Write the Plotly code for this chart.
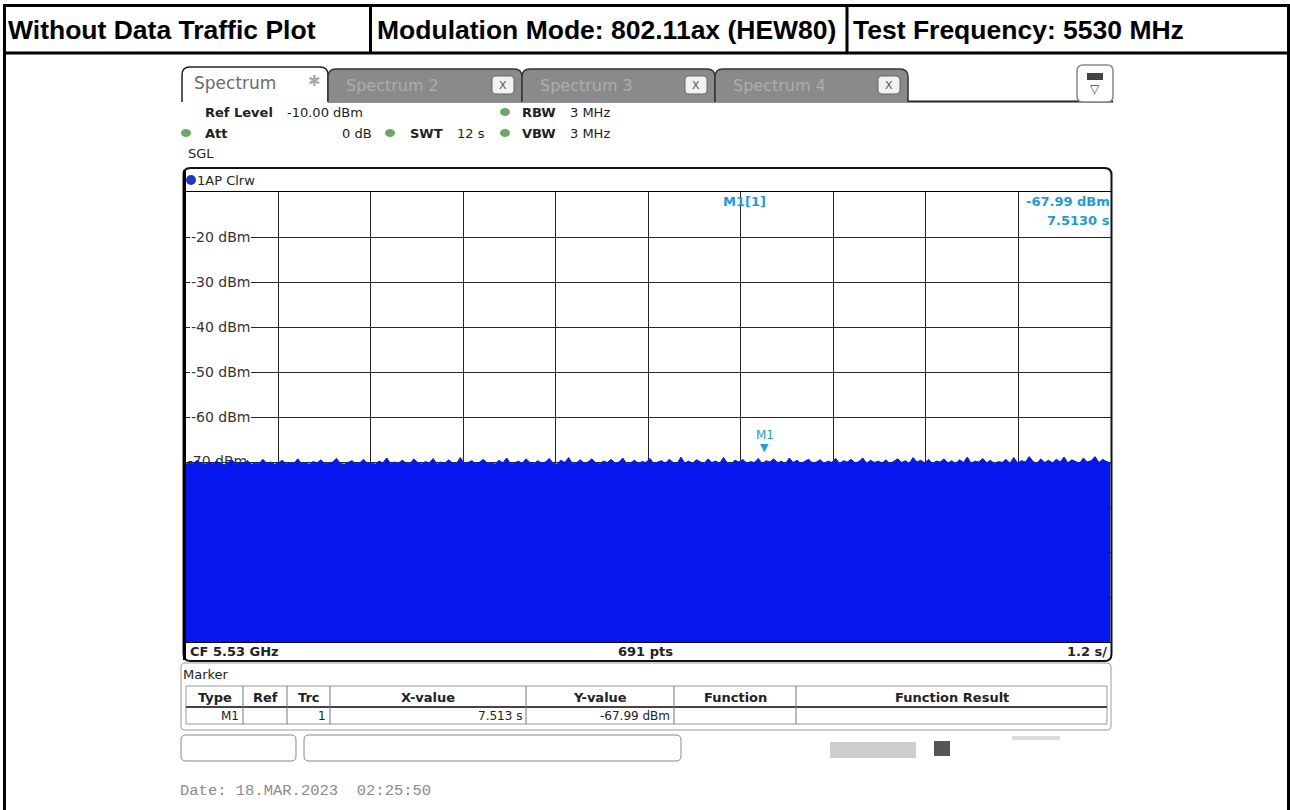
import numpy as np
import plotly.graph_objects as go

W, H = 1290, 810

# ---------------- data ----------------
header_cells = ["Without Data Traffic Plot", "Modulation Mode: 802.11ax (HEW80)", "Test Frequency: 5530 MHz"]
tab_labels = ["Spectrum", "Spectrum 2", "Spectrum 3", "Spectrum 4"]
ref_level_dbm = -10.0
y_bottom_dbm = -110.0
sweep_time_s = 12.0
time_per_div_s = 1.2
y_tick_values = [-20, -30, -40, -50, -60]
y_tick_labels = ["-20 dBm", "-30 dBm", "-40 dBm", "-50 dBm", "-60 dBm"]
hidden_label_value = -70
hidden_label = "-70 dBm"

trace_levels = [
    -70.5, -70.2, -70.4, -69.6, -70.3, -70.5, -70.1, -70.4, -69.8, -70.3, -70.6, -70.2, -69.5, -70.4, -70.1,
    -70.3, -69.7, -70.5, -70.2, -70.4, -69.4, -70.3, -70.0, -70.5, -70.2, -69.6, -70.4, -70.1, -70.3, -69.3,
    -70.4, -70.1, -70.5, -69.9, -70.2, -69.5, -70.4, -70.2, -70.0, -69.2, -70.3, -70.5, -70.1, -69.7, -70.4,
    -70.2, -69.4, -70.3, -70.1, -70.5, -69.8, -70.2, -69.1, -70.4, -70.0, -70.3, -69.6, -70.2, -70.4, -69.3,
    -70.1, -70.4, -69.9, -70.2, -69.2, -70.5, -70.0, -70.3, -69.5, -70.2, -70.4, -69.0, -70.3, -70.1, -69.7,
    -70.4, -70.0, -69.4, -70.3, -70.1, -70.5, -69.6, -70.2, -69.1, -70.4, -70.2, -69.8, -70.3, -69.3, -70.1,
    -70.4, -69.7, -70.2, -70.0, -69.2, -70.3, -70.5, -69.6, -70.1, -69.0, -70.4, -70.2, -69.5, -70.3, -70.0,
    -69.3, -70.2, -70.4, -69.8, -70.1, -69.4, -70.3, -70.0, -69.1, -70.4, -70.2, -69.6, -70.3, -69.9, -70.1,
    -69.2, -70.4, -70.0, -69.7, -70.3, -69.4, -70.1, -70.4, -68.9, -70.2, -69.8, -70.3, -69.5, -70.0, -70.4,
    -69.3, -70.1, -69.8, -70.3, -69.0, -70.2, -70.4, -69.6, -70.0, -69.4, -70.3, -69.9, -70.1, -69.2, -70.4,
    -69.7, -70.0, -69.3, -70.2, -69.8, -70.4, -69.1, -70.1, -69.6, -70.3, -69.9, -69.4, -70.2, -70.0, -69.5,
    -70.3, -69.8, -70.1, -69.2, -70.4, -69.7, -70.0, -69.4, -70.2, -69.9, -69.1, -70.3, -69.6, -70.1, -69.8,
    -70.2, -69.5, -70.4, -69.9, -69.3, -70.1, -69.7, -70.3, -69.0, -70.0, -69.6, -70.2, -69.4, -70.4, -69.8,
    -70.0, -69.3, -70.2, -69.7, -70.4, -69.5, -70.1, -68.9, -70.3, -69.8, -70.0, -69.2, -70.2, -69.6, -70.4,
    -69.9, -70.1, -69.4, -70.3, -69.0, -70.2, -69.7, -70.0, -68.8, -69.9, -70.3, -69.3, -70.1, -69.6, -70.2,
    -69.4, -70.0, -68.9, -70.2, -69.5, -69.9, -70.3, -69.1, -70.0, -69.7, -68.8, -70.1, -69.4, -69.9, -70.2,
]
marker_time_s = 7.513
marker_level_dbm = -67.99

table_headers = ["Type", "Ref", "Trc", "X-value", "Y-value", "Function", "Function Result"]
table_row = ["M1", "", "1", "7.513 s", "-67.99 dBm", "", ""]

# ---------------- helpers (pixel -> paper) ----------------
def ax(x):
    return x / W

def ay(y):
    return 1 - y / H

shapes = []
annotations = []

def line(x0, y0, x1, y1, color="black", w=1):
    shapes.append(dict(type="line", xref="paper", yref="paper", x0=ax(x0), y0=ay(y0),
                       x1=ax(x1), y1=ay(y1), line=dict(color=color, width=w), layer="above"))

def rect(x0, y0, x1, y1, fill=None, color="rgba(0,0,0,0)", w=0):
    shapes.append(dict(type="rect", xref="paper", yref="paper", x0=ax(x0), y0=ay(y0),
                       x1=ax(x1), y1=ay(y1), fillcolor=fill or "rgba(0,0,0,0)",
                       line=dict(color=color, width=w), layer="above"))

def ellipse(x0, y0, x1, y1, fill):
    shapes.append(dict(type="circle", xref="paper", yref="paper", x0=ax(x0), y0=ay(y0),
                       x1=ax(x1), y1=ay(y1), fillcolor=fill, line=dict(width=0), layer="above"))

def P(x, y):
    return f"{ax(x):.6f},{ay(y):.6f}"

def rpath(x0, y0, x1, y1, r, fill=None, color="black", w=1, open_bottom=False):
    if open_bottom:
        d = (f"M{P(x0, y1)} L{P(x0, y0 + r)} Q{P(x0, y0)} {P(x0 + r, y0)} "
             f"L{P(x1 - r, y0)} Q{P(x1, y0)} {P(x1, y0 + r)} L{P(x1, y1)}")
    else:
        d = (f"M{P(x0 + r, y0)} L{P(x1 - r, y0)} Q{P(x1, y0)} {P(x1, y0 + r)} "
             f"L{P(x1, y1 - r)} Q{P(x1, y1)} {P(x1 - r, y1)} L{P(x0 + r, y1)} "
             f"Q{P(x0, y1)} {P(x0, y1 - r)} L{P(x0, y0 + r)} Q{P(x0, y0)} {P(x0 + r, y0)} Z")
    shapes.append(dict(type="path", xref="paper", yref="paper", path=d,
                       fillcolor=fill or "rgba(0,0,0,0)", line=dict(color=color, width=w), layer="above"))

def text(x, y, s, size=13, color="#222", anchor="left", bold=False, family="DejaVu Sans", bg=None, pad=0):
    annotations.append(dict(xref="paper", yref="paper", x=ax(x), y=ay(y),
                            text=f"<b>{s}</b>" if bold else s, showarrow=False,
                            xanchor=anchor, yanchor="middle",
                            font=dict(family=family, size=size, color=color),
                            bgcolor=bg, borderpad=pad, borderwidth=0))

# ---------------- header table ----------------
line(4.5, 4, 4.5, 812, w=3)
line(1288.5, 4, 1288.5, 812, w=3)
line(3, 5.5, 1290, 5.5, w=3)
line(3, 53, 1290, 53, w=3)
line(370.5, 5, 370.5, 53, w=3)
line(847, 5, 847, 53, w=3)
hdr_font = "Liberation Sans, Arial, sans-serif"
text(8, 30, header_cells[0], size=26.5, color="black", bold=True, family=hdr_font)
text(377, 30, header_cells[1], size=26.5, color="black", bold=True, family=hdr_font)
text(853, 30, header_cells[2], size=26.5, color="black", bold=True, family=hdr_font)

# ---------------- tabs ----------------
green = "#6aa86a"
line(328, 101.5, 1113, 101.5, color="#222", w=2)
tab_x = [(182, 328), (328, 522), (522, 715), (715, 908)]
for i, (x0, x1) in enumerate(tab_x):
    if i == 0:
        rpath(x0, 67, x1, 102, 8, fill="white", color="#222", w=1.5, open_bottom=True)
        text(194, 83, tab_labels[0], size=17, color="#6b6b6b")
        text(314, 81, "✱", size=15, color="#a8a8a8", anchor="center")
    else:
        rpath(x0, 69, x1, 102, 8, fill="#8a8a8a", color="#333", w=1.5, open_bottom=True)
        text(x0 + 18, 85, tab_labels[i], size=16, color="#adadad")
        rpath(x1 - 30, 76, x1 - 8, 94, 4, fill="#f2f2f2", color="#666", w=1)
        text(x1 - 19, 85, "X", size=11, color="#555", anchor="center")
rpath(1077, 65, 1113, 102, 6, fill="white", color="#888", w=1.5)
rect(1087, 73, 1103, 80, fill="#444")
text(1095, 89, "▽", size=12, color="#444", anchor="center")

# ---------------- setting lines ----------------
y_r1, y_r2, y_r3 = 112, 133, 153
text(205, y_r1, "Ref Level", size=13, bold=True)
text(287, y_r1, "-10.00 dBm", size=13)
ellipse(500, y_r1 - 4, 510, y_r1 + 4, green)
text(522, y_r1, "RBW", size=13, bold=True)
text(570, y_r1, "3 MHz", size=13)
ellipse(181, y_r2 - 4, 191, y_r2 + 4, green)
text(205, y_r2, "Att", size=13, bold=True)
text(372, y_r2, "0 dB", size=13, anchor="right")
ellipse(385, y_r2 - 4, 395, y_r2 + 4, green)
text(410, y_r2, "SWT", size=13, bold=True)
text(457, y_r2, "12 s", size=13)
ellipse(500, y_r2 - 4, 510, y_r2 + 4, green)
text(522, y_r2, "VBW", size=13, bold=True)
text(570, y_r2, "3 MHz", size=13)
text(188, y_r3, "SGL", size=13)

# ---------------- diagram panel ----------------
rpath(183.5, 168, 1111.5, 661, 7, color="#111", w=2)
line(184.5, 170, 184.5, 660, w=3)
ellipse(186, 175, 196, 185, "#2233cc")
text(197, 180, "1AP Clrw", size=13)
text(190, 651, "CF 5.53 GHz", size=13, bold=True)
text(645, 651, "691 pts", size=13, bold=True, anchor="center")
text(1107, 651, "1.2 s/", size=13, bold=True, anchor="right")

cyan = "#1e9ad6"
text(723, 202, "M1[1]", size=13, bold=True, color=cyan)
text(1110, 202, "-67.99 dBm", size=13, bold=True, color=cyan, anchor="right")
text(1110, 220, "7.5130 s", size=13, bold=True, color=cyan, anchor="right")

# y labels (cover the gridline behind them)
y0_px, y1_px = 192, 642
for v, lab in zip(y_tick_values, y_tick_labels):
    ypx = y0_px + (ref_level_dbm - v) / (ref_level_dbm - y_bottom_dbm) * (y1_px - y0_px)
    text(190, ypx, lab, size=14, color="#333", bg="white", pad=1)

# ---------------- marker table ----------------
rpath(181, 663, 1111, 730, 4, color="#9a9a9a", w=1)
text(183, 674, "Marker", size=13, color="#222")
rect(186, 686, 1107, 724, color="#9a9a9a", w=1)
line(186, 707, 1107, 707, color="#444", w=2)
col_edges = [186, 243, 287, 330, 526, 674, 796, 1107]
for xe in col_edges[1:-1]:
    line(xe, 686, xe, 724, color="#777", w=1)
for i, h in enumerate(table_headers):
    cx = (col_edges[i] + col_edges[i + 1]) / 2
    text(cx, 697, h, size=13, bold=True, anchor="center")
for i, v in enumerate(table_row):
    if v:
        text(col_edges[i + 1] - 4, 716, v, size=12, anchor="right")

# ---------------- bottom status ----------------
rpath(181, 735, 296, 761, 5, color="#8a8a8a", w=1)
rpath(304, 735, 681, 761, 5, color="#8a8a8a", w=1)
rect(830, 742, 916, 758, fill="#cfcfcf")
rect(934, 741, 950, 756, fill="#555555")
rect(1012, 736, 1060, 740, fill="#dddddd")
text(180, 791, "Date: 18.MAR.2023  02:25:50", size=15.5, color="#8a8a8a", family="Liberation Mono, monospace")

# ---------------- traces ----------------
n = len(trace_levels)
t = np.linspace(0, sweep_time_s, n)
blue = "#0516ee"
fig = go.Figure()
# the -70 dBm label sits underneath the trace
fig.add_trace(go.Scatter(x=[0.03], y=[hidden_label_value], mode="text", text=[hidden_label],
                         textposition="middle right", textfont=dict(family="DejaVu Sans", size=14, color="#333"),
                         hoverinfo="skip", showlegend=False))
fig.add_trace(go.Scatter(x=t, y=[y_bottom_dbm] * n, mode="lines", line=dict(width=0, color=blue),
                         hoverinfo="skip", showlegend=False))
fig.add_trace(go.Scatter(x=t, y=trace_levels, mode="lines", fill="tonexty", fillcolor=blue,
                         line=dict(color="#1424c0", width=1), showlegend=False, name="1AP Clrw"))

annotations.append(dict(xref="x", yref="y", x=marker_time_s, y=marker_level_dbm, text="▼",
                        showarrow=False, yanchor="bottom", xanchor="center", yshift=-3,
                        font=dict(family="DejaVu Sans", size=11, color=cyan)))
annotations.append(dict(xref="x", yref="y", x=marker_time_s, y=marker_level_dbm, text="M1",
                        showarrow=False, yanchor="bottom", xanchor="center", yshift=9,
                        font=dict(family="DejaVu Sans", size=12, color=cyan)))

fig.update_layout(
    width=W, height=H, autosize=False,
    margin=dict(l=0, r=0, t=0, b=0),
    paper_bgcolor="white", plot_bgcolor="white",
    showlegend=False,
    shapes=shapes, annotations=annotations,
    xaxis=dict(domain=[185.5 / W, 1110.5 / W], range=[0, sweep_time_s], dtick=time_per_div_s, tick0=0,
               showgrid=True, gridcolor="#262626", gridwidth=1, zeroline=False, showticklabels=False,
               ticks="", showline=True, mirror=True, linecolor="black", linewidth=1, fixedrange=True),
    yaxis=dict(domain=[1 - 642 / H, 1 - 192 / H], range=[y_bottom_dbm, ref_level_dbm], dtick=10,
               tick0=y_bottom_dbm, showgrid=True, gridcolor="#262626", gridwidth=1, zeroline=False,
               showticklabels=False, ticks="", showline=True, mirror=True, linecolor="black",
               linewidth=1, fixedrange=True),
)

fig.write_html("out.html", config={"displayModeBar": False},
               post_script="document.body.style.margin='0px';")
